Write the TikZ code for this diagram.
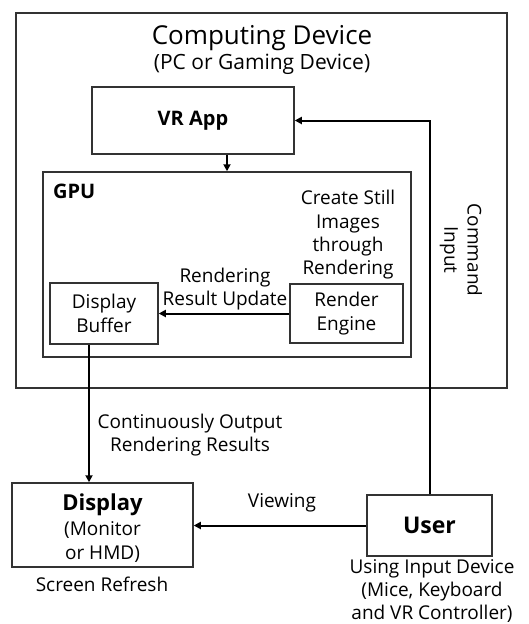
\documentclass[tikz,border=0pt]{standalone}
\usepackage{fontspec}
\setmainfont{Open Sans}
\usetikzlibrary{arrows.meta}
\begin{document}
\begin{tikzpicture}[x=1pt,y=-1pt,
  box/.style={draw=black!80, line width=1.5pt, inner sep=0pt},
  conn/.style={line width=2pt, -{Triangle[length=7pt,width=7pt]}},
  txt/.style={inner sep=0pt, font=\fontsize{19}{23.3}\selectfont, align=center},
  btxt/.style={inner sep=0pt, font=\fontsize{20}{23}\selectfont\bfseries, align=center}]
\useasboundingbox (0,0) rectangle (529,624);
% boxes
\node[box, minimum width=491pt, minimum height=375pt] (comp) at (261.5,200.5) {};
\node[box, minimum width=202pt, minimum height=67pt] (vrapp) at (193,120.5) {};
\node[box, minimum width=368pt, minimum height=185pt] (gpu) at (227,264.5) {};
\node[box, minimum width=108pt, minimum height=61pt] (dbuf) at (104,313.5) {};
\node[box, minimum width=113pt, minimum height=59pt] (reng) at (346.5,313.5) {};
\node[box, minimum width=181pt, minimum height=84pt] (disp) at (102.5,525) {};
\node[box, minimum width=125pt, minimum height=61pt] (user) at (429.5,525.5) {};
% texts
\node[txt, font=\fontsize{26}{28}\selectfont] (tcomp) at (262,38) {Computing Device};
\node[txt, font=\fontsize{21}{23}\selectfont] (tpc) at (262,64) {(PC or Gaming Device)};
\node[btxt] (tvr) at (vrapp) {VR App};
\node[btxt, anchor=west] (tgpu) at (53,191) {GPU};
\node[txt] (tcreate) at (348,235) {Create Still\\Images\\through\\Rendering};
\node[txt] (trru) at (225,289) {Rendering\\Result Update};
\node[txt] (tdbuf) at (dbuf) {Display\\Buffer};
\node[txt] (treng) at (reng) {Render\\Engine};
\node[txt, rotate=-90] (tcmd) at (461,250) {Command\\Input};
\node[txt] (tcont) at (190,435) {Continuously Output\\Rendering Results};
\node[btxt, font=\fontsize{22}{23}\selectfont\bfseries] (tdisp) at (102.5,505) {Display};
\node[txt] (tmon) at (102.5,542) {(Monitor\\or HMD)};
\node[txt] (tscr) at (102,584) {Screen Refresh};
\node[txt] (tview) at (282,503) {Viewing};
\node[btxt, font=\fontsize{23}{23}\selectfont\bfseries] (tuser) at (user) {User};
\node[txt] (tusing) at (432,591) {Using Input Device\\(Mice, Keyboard\\and VR Controller)};
% connectors
\draw[conn] (gpu.north |- vrapp.south) -- (gpu.north);
\draw[conn] (reng.west) -- (reng.west -| dbuf.east);
\coordinate (dbo) at ([xshift=-15pt]dbuf.south);
\draw[conn] (dbo) -- (dbo |- disp.north);
\draw[conn] (user.west) -- (user.west -| disp.east);
\draw[conn] (user.north) |- (vrapp.east);
\end{tikzpicture}
\end{document}
